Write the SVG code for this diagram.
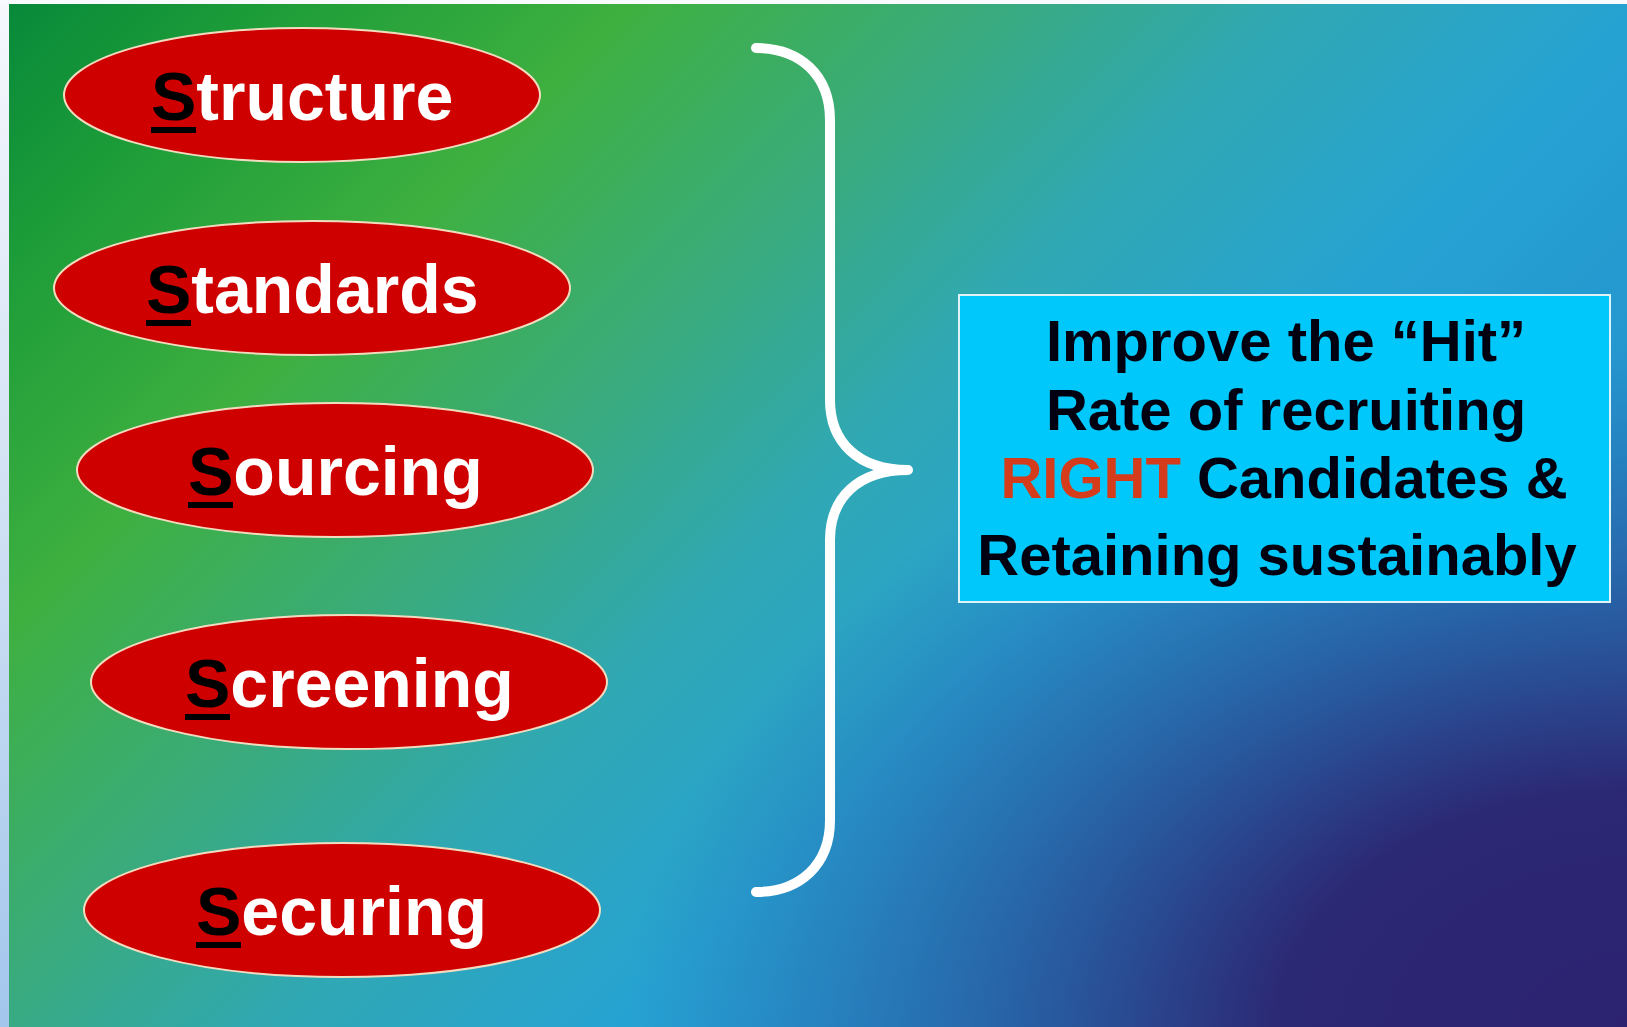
<svg xmlns="http://www.w3.org/2000/svg" width="1627" height="1027" viewBox="0 0 1627 1027">
<defs>
<linearGradient id="bg" gradientUnits="userSpaceOnUse" x1="0" y1="0" x2="1327" y2="1327">
<stop offset="0" stop-color="#07883a"/>
<stop offset="0.1" stop-color="#1c9c38"/>
<stop offset="0.24" stop-color="#3eb040"/>
<stop offset="0.37" stop-color="#3aab7a"/>
<stop offset="0.49" stop-color="#30a8b4"/>
<stop offset="0.62" stop-color="#26a2d2"/>
<stop offset="0.78" stop-color="#2494cf"/>
<stop offset="1" stop-color="#2a78b8"/>
</linearGradient>
<radialGradient id="dark" gradientUnits="userSpaceOnUse" cx="0" cy="0" r="1" gradientTransform="translate(1627 1027) scale(1000 680)">
<stop offset="0" stop-color="#2c2270" stop-opacity="1"/>
<stop offset="0.35" stop-color="#2c2470" stop-opacity="0.95"/>
<stop offset="0.65" stop-color="#2a3a86" stop-opacity="0.5"/>
<stop offset="1" stop-color="#2a4a96" stop-opacity="0"/>
</radialGradient>
<linearGradient id="strip" x1="0" y1="0" x2="0" y2="1">
<stop offset="0" stop-color="#f6f8fd"/>
<stop offset="0.5" stop-color="#d0e0f4"/>
<stop offset="1" stop-color="#a2c6ec"/>
</linearGradient>
<style>
.oval{fill:#cf0000;stroke:#f2dcc0;stroke-width:2}
.lbl{font-family:"Liberation Sans",Arial,sans-serif;font-weight:bold;font-size:68px;fill:#ffffff}
.ini{fill:#000000}
.ul{fill:#000000}
.goal{font-family:"Liberation Sans",Arial,sans-serif;font-weight:bold;font-size:58px;fill:#000010;text-anchor:middle}
.right{fill:#d43c1c}
</style>
</defs>
<rect x="0" y="0" width="1627" height="1027" fill="url(#bg)"/>
<rect x="0" y="0" width="1627" height="1027" fill="url(#dark)"/>
<rect x="0" y="0" width="9" height="1027" fill="url(#strip)"/>
<rect x="0" y="0" width="1627" height="4" fill="#f8fafd"/>

<g id="structure">
<ellipse class="oval" cx="302" cy="95" rx="238" ry="67"/>
<text class="lbl" x="151" y="120"><tspan class="ini">S</tspan>tructure</text>
<rect class="ul" x="151" y="127" width="45" height="6"/>
</g>
<g id="standards">
<ellipse class="oval" cx="312" cy="288" rx="258" ry="67"/>
<text class="lbl" x="146" y="313"><tspan class="ini">S</tspan>tandards</text>
<rect class="ul" x="146" y="320" width="45" height="6"/>
</g>
<g id="sourcing">
<ellipse class="oval" cx="335" cy="470" rx="258" ry="67"/>
<text class="lbl" x="188" y="495"><tspan class="ini">S</tspan>ourcing</text>
<rect class="ul" x="188" y="502" width="45" height="6"/>
</g>
<g id="screening">
<ellipse class="oval" cx="349" cy="682" rx="258" ry="67"/>
<text class="lbl" x="185" y="707"><tspan class="ini">S</tspan>creening</text>
<rect class="ul" x="185" y="714" width="45" height="6"/>
</g>
<g id="securing">
<ellipse class="oval" cx="342" cy="910" rx="258" ry="67"/>
<text class="lbl" x="196" y="935"><tspan class="ini">S</tspan>ecuring</text>
<rect class="ul" x="196" y="942" width="45" height="6"/>
</g>

<g id="connectors">
<path d="M 756 48 C 800 48 830 75 830 120 L 830 400 C 830 442 858 470 908 470 C 858 470 830 498 830 540 L 830 820 C 830 865 800 892 756 892" fill="none" stroke="#ffffff" stroke-width="10" stroke-linecap="round" stroke-linejoin="round"/>
</g>

<g id="goal">
<rect x="959" y="295" width="651" height="307" fill="#00c8fa" stroke="#dff2f6" stroke-width="2"/>
<text class="goal" x="1286" y="361">Improve the “Hit”</text>
<text class="goal" x="1286" y="430">Rate of recruiting</text>
<text class="goal" x="1284" y="498"><tspan class="right">RIGHT</tspan> Candidates &amp;</text>
<text class="goal" x="1277" y="575">Retaining sustainably</text>
</g>
</svg>
